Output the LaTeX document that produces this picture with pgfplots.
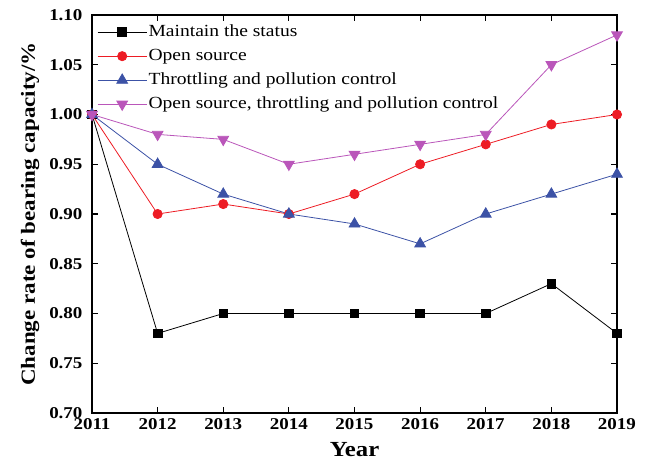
\documentclass[border=0pt]{standalone}
\usepackage{pgfplots}
\pgfplotsset{compat=1.18}
\usepackage{fontspec}
\setmainfont{Liberation Serif}[FakeStretch=1.15]
\definecolor{cred}{RGB}{237,28,36}
\definecolor{cblue}{RGB}{60,82,166}
\definecolor{cmag}{RGB}{186,86,186}
\begin{document}
\begin{tikzpicture}
\begin{axis}[
  name=ax,
  scale only axis, width=525pt, height=398pt,
  xmin=2011, xmax=2019, ymin=0.70, ymax=1.10,
  xtick={2011,...,2019},
  ytick={0.70,0.75,...,1.10},
  tick align=inside, major tick length=6pt,
  axis line style={line width=1.5pt},
  every tick/.style={line width=1.1pt,black},
  /pgf/number format/assume math mode=true,
  ticklabel style={font=\fontsize{16.5}{20}\selectfont\bfseries},
  xticklabel style={/pgf/number format/1000 sep={}, yshift=-2pt},
  yticklabel style={/pgf/number format/fixed, /pgf/number format/fixed zerofill, /pgf/number format/precision=2, xshift=-6pt},
  xlabel={Year}, ylabel={Change rate of bearing capacity/\%},
  xlabel style={font=\fontsize{21.5}{24}\selectfont\bfseries, yshift=-6pt},
  ylabel style={font=\fontsize{20}{24}\selectfont\bfseries, yshift=3pt},
  legend style={draw=none, fill=none, at={(0.004,0.99)}, anchor=north west,
    font=\fontsize{17}{22}\selectfont, row sep=2pt,
    nodes={text height=14pt, text depth=5pt, inner sep=1.5pt}},
  legend cell align=left,
  legend image code/.code={\draw[mark repeat=2,mark phase=2] plot coordinates {(0pt,0pt) (24.5pt,0pt) (49pt,0pt)};},
  every axis plot/.append style={line width=0.8pt},
  clip=false,
]
\addplot[black, mark=square*, mark size=4.3pt] coordinates {
(2011,1.00) (2012,0.78) (2013,0.80) (2014,0.80) (2015,0.80) (2016,0.80) (2017,0.80) (2018,0.83) (2019,0.78)};
\addplot[cred, mark=*, mark size=4.6pt] coordinates {
(2011,1.00) (2012,0.90) (2013,0.91) (2014,0.90) (2015,0.92) (2016,0.95) (2017,0.97) (2018,0.99) (2019,1.00)};
\addplot[cblue, mark=triangle*, mark size=6.2pt] coordinates {
(2011,1.00) (2012,0.95) (2013,0.92) (2014,0.90) (2015,0.89) (2016,0.87) (2017,0.90) (2018,0.92) (2019,0.94)};
\addplot[cmag, mark=triangle*, mark size=6.2pt, mark options={rotate=180}] coordinates {
(2011,1.00) (2012,0.98) (2013,0.975) (2014,0.95) (2015,0.96) (2016,0.97) (2017,0.98) (2018,1.05) (2019,1.08)};
\legend{Maintain the status, Open source, Throttling and pollution control, {Open source, throttling and pollution control}}
\end{axis}
\path ([shift={(-92pt,-56pt)}]ax.south west) rectangle ([shift={(28pt,15pt)}]ax.north east);
\end{tikzpicture}
\end{document}
